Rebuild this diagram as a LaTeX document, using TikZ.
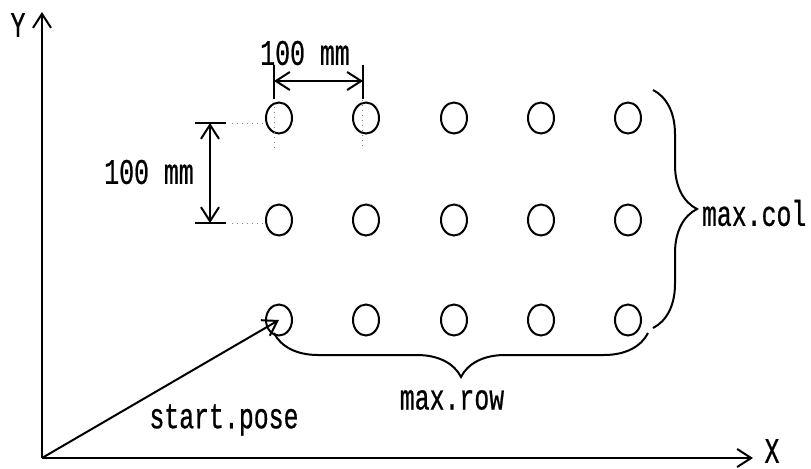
\documentclass[tikz,border=0pt]{standalone}
\usepackage{fontspec}
\newfontfamily\labelfont[FakeStretch=0.69,FakeBold=0.6]{Liberation Mono}
\usetikzlibrary{arrows.meta,shapes.geometric,decorations.pathreplacing}

\begin{document}
\begin{tikzpicture}[x=0.5pt,y=-0.5pt,line width=1pt,
    >={Straight Barb[length=7pt,width=9pt]},
    every node/.style={font=\labelfont\fontsize{18}{20}\selectfont},
    hole/.style={draw,ellipse,minimum width=13pt,minimum height=15.5pt,inner sep=0pt},
    guide/.style={dotted,line width=0.5pt,gray},
    curly/.style={decorate,decoration={brace,amplitude=22pt}}]
        \useasboundingbox (0,0) rectangle (811,468);
        \coordinate (O) at (42,458);
        \coordinate (ytip) at (42,12);
        \coordinate (xtip) at (753,458);
        \draw[->] (O) -- (ytip);
        \draw[->] (O) -- (xtip);
        \node (ylab) at (18,25) {Y};
        \node[inner sep=0.5pt] (xlab) at (772,451) {X};
        \foreach \col/\cx in {1/279,2/366,3/454,4/541,5/628} {
            \foreach \row/\cy in {1/118,2/220,3/320} {
                \node[hole] (h-\col-\row) at (\cx,\cy) {};
            }
        }
        \draw[->] (O) -- (h-1-3.center);
        \node (startlab) at (224,420) {start.pose};
        \coordinate (hl) at (274,81);
        \coordinate (hr) at (363,81);
        \draw (274,65) -- (274,99);
        \draw (363,65) -- (363,99);
        \draw[<->] (hl) -- (hr);
        \node (hdim) at (305,53) {100 mm};
        \coordinate (vt) at (210,123);
        \coordinate (vb) at (210,223);
        \draw (195,123) -- (226,123);
        \draw (195,223) -- (226,223);
        \draw[<->] (vt) -- (vb);
        \node (vdim) at (149,172) {100 mm};
        \draw[guide] (232,123) -- (267,123);
        \draw[guide] (232,223) -- (267,223);
        \draw[guide] (274,107) -- (274,150);
        \draw[guide] (362,100) -- (362,148);
        \draw[curly] (653,90) -- (653,328);
        \node[anchor=west,inner sep=1pt] (collab) at (699,213) {max.col};
        \draw[curly] (648,333) -- (274,333);
        \node (rowlab) at (452,400) {max.row};
    \end{tikzpicture}
\end{document}
